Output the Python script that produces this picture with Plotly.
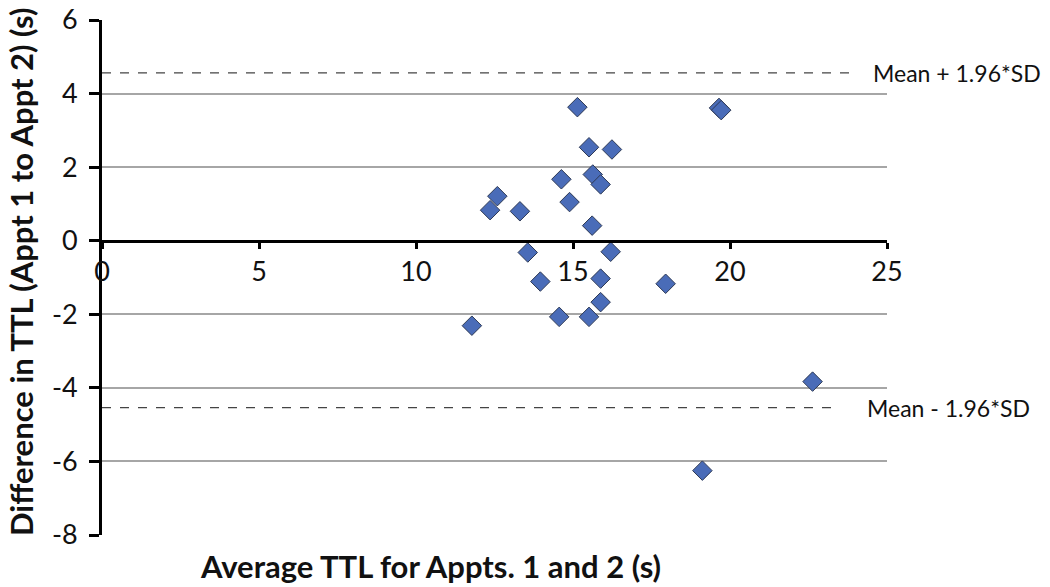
import plotly.graph_objects as go

avg_ttl = [15.14, 15.51, 16.24, 14.63, 15.63, 15.88, 12.59, 12.36, 13.31, 14.89,
           15.61, 13.56, 16.20, 13.96, 15.88, 17.95, 15.88, 14.56, 15.51, 11.78,
           22.63, 19.12, 19.65, 19.72]
diff_ttl = [3.63, 2.54, 2.48, 1.67, 1.80, 1.53, 1.21, 0.83, 0.80, 1.05,
            0.41, -0.32, -0.30, -1.11, -1.03, -1.17, -1.67, -2.07, -2.07, -2.31,
            -3.83, -6.25, 3.61, 3.55]
upper_loa = 4.56
lower_loa = -4.54
loa_x_end_upper = 23.9
loa_x_end_lower = 23.5
x_ticks = [0, 5, 10, 15, 20, 25]
y_ticks = [-8, -6, -4, -2, 0, 2, 4, 6]

FONT = "Lato"

fig = go.Figure()

# limits of agreement (dashed)
fig.add_trace(go.Scatter(x=[0, loa_x_end_upper], y=[upper_loa, upper_loa], mode="lines",
                         line=dict(color="#444444", width=1.2, dash="dash"),
                         hoverinfo="skip", showlegend=False))
fig.add_trace(go.Scatter(x=[0, loa_x_end_lower], y=[lower_loa, lower_loa], mode="lines",
                         line=dict(color="#444444", width=1.2, dash="dash"),
                         hoverinfo="skip", showlegend=False))

fig.add_trace(go.Scatter(x=avg_ttl, y=diff_ttl, mode="markers",
                         marker=dict(symbol="diamond", size=15, color="#4A6CB8",
                                     line=dict(color="#2E3A55", width=1)),
                         showlegend=False, cliponaxis=False))

fig.update_layout(
    width=1050, height=587,
    margin=dict(l=102, r=163, t=20, b=52, autoexpand=False),
    plot_bgcolor="white", paper_bgcolor="white",
    font=dict(family=FONT, color="#111111"),
    xaxis=dict(range=[0, 25], tickvals=x_ticks, ticktext=[str(v) for v in x_ticks],
               showgrid=False, zeroline=False, automargin=False,
               showline=True, linecolor="black", linewidth=3,
               ticks="outside", ticklen=6, tickwidth=3, tickcolor="black",
               tickfont=dict(size=27, family=FONT, color="#111111"),
               anchor="free", position=8/14, ticklabelstandoff=0),
    yaxis=dict(range=[-8, 6], tickvals=y_ticks, ticktext=[str(v) for v in y_ticks],
               showgrid=True, gridcolor="#A6A6A6", gridwidth=1.5, automargin=False,
               zeroline=False, showline=True, linecolor="black", linewidth=3,
               ticks="outside", ticklen=10, tickwidth=3, tickcolor="black",
               tickfont=dict(size=27, family=FONT, color="#111111"),
               ticklabelstandoff=6),
    annotations=[
        dict(x=24.5, y=upper_loa, xref="x", yref="y", text="Mean + 1.96*SD",
             showarrow=False, xanchor="left", yanchor="middle",
             font=dict(size=23, family=FONT, color="#111111")),
        dict(x=24.3, y=lower_loa, xref="x", yref="y", text="Mean - 1.96*SD",
             showarrow=False, xanchor="left", yanchor="middle",
             font=dict(size=23, family=FONT, color="#111111")),
        dict(x=(430 - 102) / 785, y=(535 - 566) / 515, xref="paper", yref="paper",
             text="<b>Average TTL for Appts. 1 and 2 (s)</b>", showarrow=False,
             xanchor="center", yanchor="middle",
             font=dict(size=31, family=FONT, color="#111111")),
        dict(x=(21 - 102) / 785, y=(535 - 272) / 515, xref="paper", yref="paper",
             text="<b>Difference in TTL (Appt 1 to Appt 2) (s)</b>", showarrow=False,
             textangle=-90, xanchor="center", yanchor="middle",
             font=dict(size=31, family=FONT, color="#111111")),
    ],
)

fig.write_html("out.html", config={"displayModeBar": False},
               post_script="document.body.style.margin='0px';")
